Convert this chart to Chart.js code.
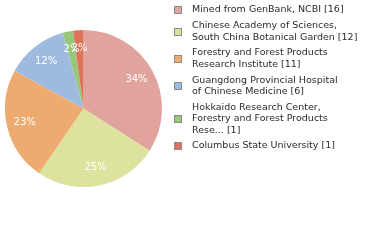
<!DOCTYPE html>
<html lang="en">
<head>
<meta charset="UTF-8">
<title>Sources pie</title>
<script src="https://cdn.jsdelivr.net/npm/chart.js"></script>
<style>
  html, body { margin: 0; padding: 0; background: #fff; }
  #chart { display: block; }
</style>
</head>
<body>
<canvas id="chart" width="380" height="240"></canvas>
<script>
// data
const sources = [
  'Mined from GenBank, NCBI',
  'Chinese Academy of Sciences, South China Botanical Garden',
  'Forestry and Forest Products Research Institute',
  'Guangdong Provincial Hospital of Chinese Medicine',
  'Hokkaido Research Center, Forestry and Forest Products Rese...',
  'Columbus State University'
];
const counts = [16, 12, 11, 6, 1, 1];
const colors = ['#e0a49c', '#dde29f', '#eeab70', '#9ebbdf', '#98c77b', '#df735a'];

const FONT = '"DejaVu Sans", Verdana, sans-serif';

// white percent labels inside the slices
const pctLabels = {
  id: 'pctLabels',
  afterDatasetsDraw(chart) {
    const ctx = chart.ctx;
    const meta = chart.getDatasetMeta(0);
    const total = counts.reduce((a, b) => a + b, 0);
    ctx.save();
    ctx.font = '10px ' + FONT;
    ctx.fillStyle = '#fff';
    ctx.textAlign = 'center';
    ctx.textBaseline = 'middle';
    meta.data.forEach((arc, i) => {
      const mid = (arc.startAngle + arc.endAngle) / 2;
      const r = arc.outerRadius * 0.77;
      const x = arc.x + Math.cos(mid) * r;
      const y = arc.y + Math.sin(mid) * r;
      ctx.fillText(Math.floor(counts[i] / total * 100) + '%', x, y);
    });
    ctx.restore();
  }
};

// wrap a name at about 30 characters, then tack the count on the end
function wrapName(name, n) {
  const words = name.split(' ');
  const lines = [];
  let cur = '';
  words.forEach(w => {
    const test = cur ? cur + ' ' + w : w;
    if (cur && test.length > 30) {
      lines.push(cur);
      cur = w;
    } else {
      cur = test;
    }
  });
  lines.push(cur + ' [' + n + ']');
  return lines;
}

// legend on the right
const sideLegend = {
  id: 'sideLegend',
  afterDraw(chart) {
    const ctx = chart.ctx;
    ctx.save();
    ctx.font = '9.5px ' + FONT;
    ctx.textBaseline = 'middle';
    const lineH = 11.4;
    const gap = 4.4;
    let y = 10;
    sources.forEach((name, i) => {
      const lines = wrapName(name, counts[i]);
      const midY = y + (lines.length - 1) * lineH / 2;
      const top = Math.round(midY - 3);
      ctx.fillStyle = colors[i];
      ctx.fillRect(175, top, 6, 6);
      ctx.strokeStyle = '#8a8a8a';
      ctx.lineWidth = 1;
      ctx.strokeRect(174.5, top - 0.5, 7, 7);
      ctx.fillStyle = '#2a2a2a';
      lines.forEach((ln, k) => {
        ctx.fillText(ln, 192, y + k * lineH);
      });
      y += lines.length * lineH + gap;
    });
    ctx.restore();
  }
};

new Chart(document.getElementById('chart'), {
  type: 'pie',
  data: {
    labels: sources,
    datasets: [{
      data: counts,
      backgroundColor: colors,
      borderWidth: 0
    }]
  },
  options: {
    responsive: false,
    animation: false,
    layout: { padding: { left: 5, top: 30, right: 218, bottom: 53 } },
    plugins: {
      legend: { display: false },
      tooltip: { enabled: false }
    }
  },
  plugins: [pctLabels, sideLegend]
});
</script>
</body>
</html>
